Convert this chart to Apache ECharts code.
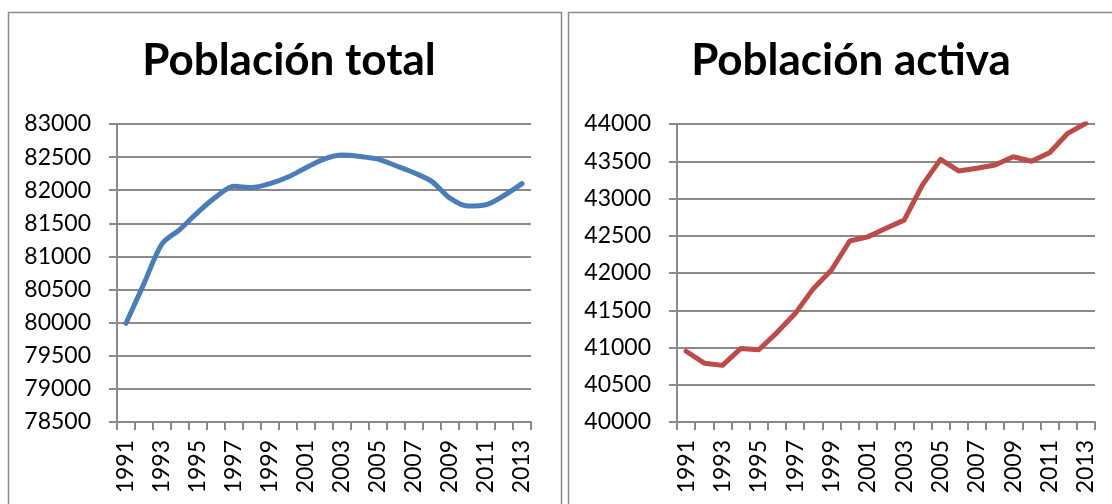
<!DOCTYPE html>
<html>
<head>
<meta charset="utf-8">
<script src="https://cdn.jsdelivr.net/npm/echarts@6/dist/echarts.min.js"></script>
<style>
  html, body { margin: 0; padding: 0; background: #fff; }
  #chart { width: 1112px; height: 504px; }
</style>
</head>
<body>
<div id="chart"></div>
<script>
// years shared by both charts
const years = ['1991','1992','1993','1994','1995','1996','1997','1998','1999','2000','2001','2002',
  '2003','2004','2005','2006','2007','2008','2009','2010','2011','2012','2013'];

// Población total (miles)
const poblacionTotal = [79990, 80590, 81190, 81410, 81670, 81900, 82060, 82040, 82100, 82200, 82340, 82470,
  82530, 82510, 82470, 82370, 82265, 82130, 81880, 81760, 81780, 81920, 82100];

// Población activa (miles)
const poblacionActiva = [40950, 40790, 40760, 40985, 40970, 41200, 41455, 41790, 42040, 42430, 42485, 42600,
  42710, 43180, 43525, 43370, 43405, 43450, 43560, 43500, 43615, 43875, 44010];

const titles = ['Población total', 'Población activa'];

const grayLine = '#8a8a8a';
const font = 'Lato, "Open Sans", sans-serif';

const myChart = echarts.init(document.getElementById('chart'));

function xAxisFor(idx) {
  return {
    type: 'category',
    gridIndex: idx,
    data: years,
    boundaryGap: true,
    axisLine: { lineStyle: { color: grayLine, width: 2 } },
    axisTick: { show: true, interval: 0, length: 8, lineStyle: { color: grayLine, width: 2 } },
    axisLabel: { interval: 1, rotate: 90, margin: 18, fontSize: 23, color: '#000', fontFamily: font }
  };
}

function yAxisFor(idx, min, max) {
  return {
    type: 'value',
    gridIndex: idx,
    min: min,
    max: max,
    interval: 500,
    axisLine: { show: true, lineStyle: { color: grayLine, width: 2 } },
    axisTick: { show: true, length: 8, lineStyle: { color: grayLine, width: 2 } },
    splitLine: { lineStyle: { color: grayLine, width: 2 } },
    axisLabel: { margin: 26, fontSize: 23, color: '#000', fontFamily: font,
      formatter: (v) => String(v) }
  };
}

const option = {
  animation: false,
  title: [
    { text: titles[0], left: 284, top: 34, textAlign: 'center',
      textStyle: { fontSize: 44, fontWeight: 'bold', color: '#000', fontFamily: font } },
    { text: titles[1], left: 846, top: 34, textAlign: 'center',
      textStyle: { fontSize: 44, fontWeight: 'bold', color: '#000', fontFamily: font } }
  ],
  graphic: [
    { type: 'rect', shape: { x: 8.5, y: 12.5, width: 553, height: 520 },
      style: { fill: 'none', stroke: grayLine, lineWidth: 1.5 }, z: -1 },
    { type: 'rect', shape: { x: 568.5, y: 12.5, width: 600, height: 520 },
      style: { fill: 'none', stroke: grayLine, lineWidth: 1.5 }, z: -1 }
  ],
  grid: [
    { left: 117, top: 124, width: 414, height: 298 },
    { left: 677, top: 124, width: 418, height: 298 }
  ],
  xAxis: [xAxisFor(0), xAxisFor(1)],
  yAxis: [yAxisFor(0, 78500, 83000), yAxisFor(1, 40000, 44000)],
  series: [
    {
      name: titles[0],
      type: 'line',
      xAxisIndex: 0,
      yAxisIndex: 0,
      data: poblacionTotal,
      smooth: 0.3,
      showSymbol: false,
      lineStyle: { color: '#4a7ebb', width: 5, cap: 'round' }
    },
    {
      name: titles[1],
      type: 'line',
      xAxisIndex: 1,
      yAxisIndex: 1,
      data: poblacionActiva,
      showSymbol: false,
      lineStyle: { color: '#be4b48', width: 5, cap: 'round', join: 'round' }
    }
  ]
};

myChart.setOption(option);
</script>
</body>
</html>
